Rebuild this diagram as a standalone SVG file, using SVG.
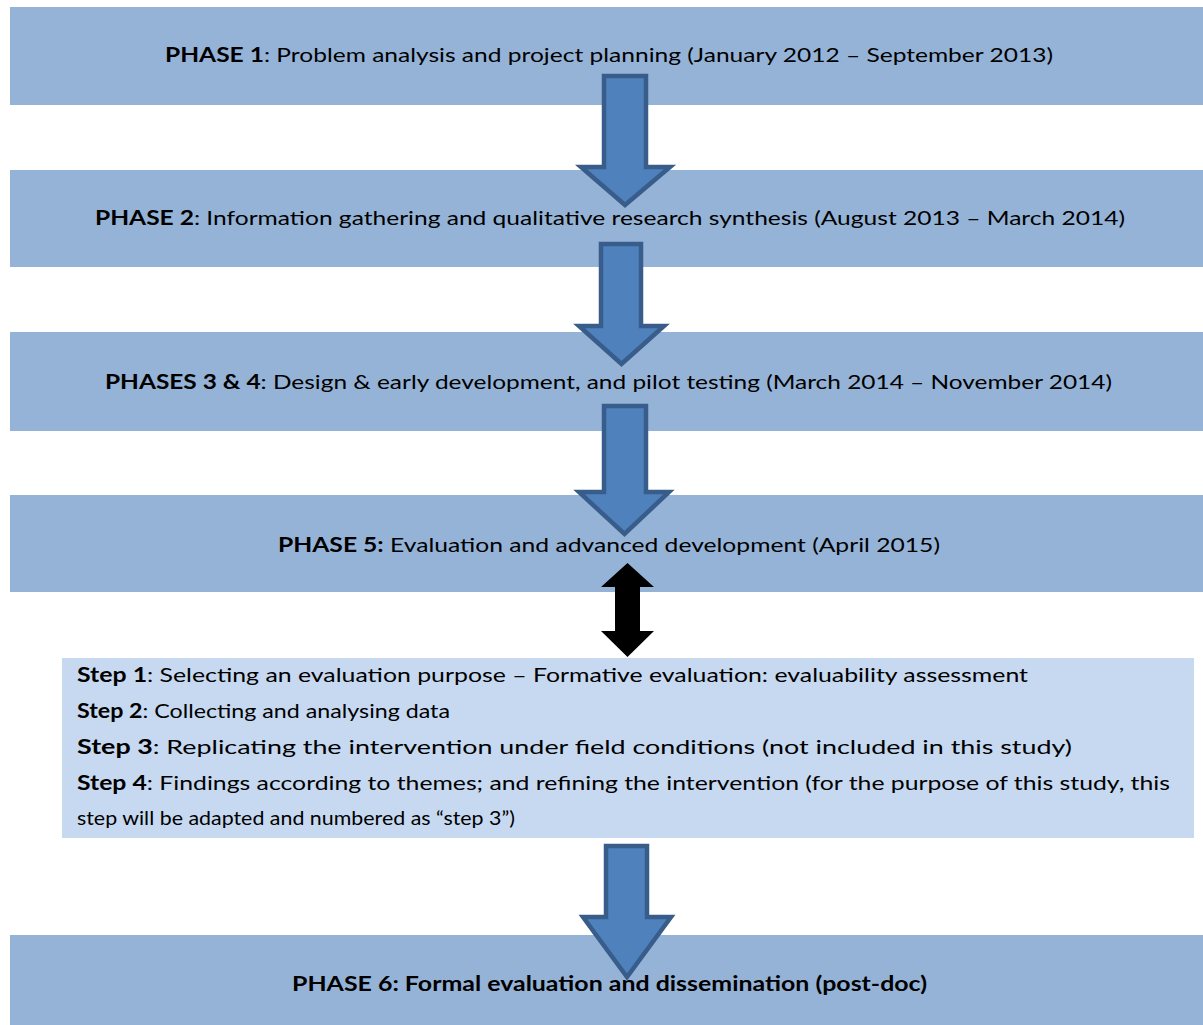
<svg xmlns="http://www.w3.org/2000/svg" width="1203" height="1025" viewBox="0 0 1203 1025">
  <style>
    .phase { fill: #95B3D7; }
    .steps { fill: #C6D9F1; }
    .lbl { font-family: Lato, "Liberation Sans", Arial, sans-serif; font-size: 20px; fill: #000; }
    .b { font-weight: bold; }
    .blk { fill: #4F81BD; stroke: #385D8A; stroke-width: 4.5; stroke-linejoin: miter; }
    .dbl { fill: #000; }
  </style>
  <rect width="1203" height="1025" fill="#fff"/>

  <g id="phase1">
    <rect class="phase" x="10" y="7" width="1193" height="98"/>
    <text class="lbl" x="165" y="62" textLength="888" lengthAdjust="spacingAndGlyphs"><tspan class="b">PHASE 1</tspan>: Problem analysis and project planning (January 2012 – September 2013)</text>
  </g>

  <g id="phase2">
    <rect class="phase" x="10" y="170" width="1193" height="97"/>
    <text class="lbl" x="95" y="225" textLength="1030" lengthAdjust="spacingAndGlyphs"><tspan class="b">PHASE 2</tspan>: Information gathering and qualitative research synthesis (August 2013 – March 2014)</text>
  </g>

  <g id="phase3-4">
    <rect class="phase" x="10" y="332" width="1193" height="99"/>
    <text class="lbl" x="105" y="389" textLength="1007" lengthAdjust="spacingAndGlyphs"><tspan class="b">PHASES 3 &amp; 4</tspan>: Design &amp; early development, and pilot testing (March 2014 – November 2014)</text>
  </g>

  <g id="phase5">
    <rect class="phase" x="10" y="495" width="1193" height="97"/>
    <text class="lbl" x="278" y="552" textLength="662" lengthAdjust="spacingAndGlyphs"><tspan class="b">PHASE 5:</tspan> Evaluation and advanced development (April 2015)</text>
  </g>

  <g id="steps">
    <rect class="steps" x="62" y="658" width="1132" height="180"/>
    <text class="lbl" x="77" y="682" textLength="951" lengthAdjust="spacingAndGlyphs"><tspan class="b">Step 1</tspan>: Selecting an evaluation purpose – Formative evaluation: evaluability assessment</text>
    <text class="lbl" x="77" y="718" textLength="373" lengthAdjust="spacingAndGlyphs"><tspan class="b">Step 2</tspan>: Collecting and analysing data</text>
    <text class="lbl" x="77" y="754" textLength="995" lengthAdjust="spacingAndGlyphs"><tspan class="b">Step 3</tspan>: Replicating the intervention under field conditions (not included in this study)</text>
    <text class="lbl" x="77" y="790" textLength="1093" lengthAdjust="spacingAndGlyphs"><tspan class="b">Step 4</tspan>: Findings according to themes; and refining the intervention (for the purpose of this study, this</text>
    <text class="lbl" x="77" y="825" textLength="438" lengthAdjust="spacingAndGlyphs">step will be adapted and numbered as “step 3”)</text>
  </g>

  <g id="phase6">
    <rect class="phase" x="10" y="935" width="1193" height="90"/>
    <text class="lbl b" x="292" y="991" textLength="635" lengthAdjust="spacingAndGlyphs">PHASE 6: Formal evaluation and dissemination (post-doc)</text>
  </g>

  <!-- block arrows between the phases -->
  <g id="connectors">
    <polygon class="blk" points="604,76 646,76 646,167 670,167 625,205 581,167 604,167"/>
    <polygon class="blk" points="601,244 641,244 641,326 664,326 621.5,364 579,326 601,326"/>
    <polygon class="blk" points="604,406 646,406 646,492 669,492 624.5,534 579,492 604,492"/>
    <polygon class="dbl" points="627.5,563 654,587 640,587 640,631 654,631 627.5,657 601,631 615,631 615,587 601,587"/>
    <polygon class="blk" points="606,846 647,846 647,917 671,917 627,977 583,917 606,917"/>
  </g>
</svg>
